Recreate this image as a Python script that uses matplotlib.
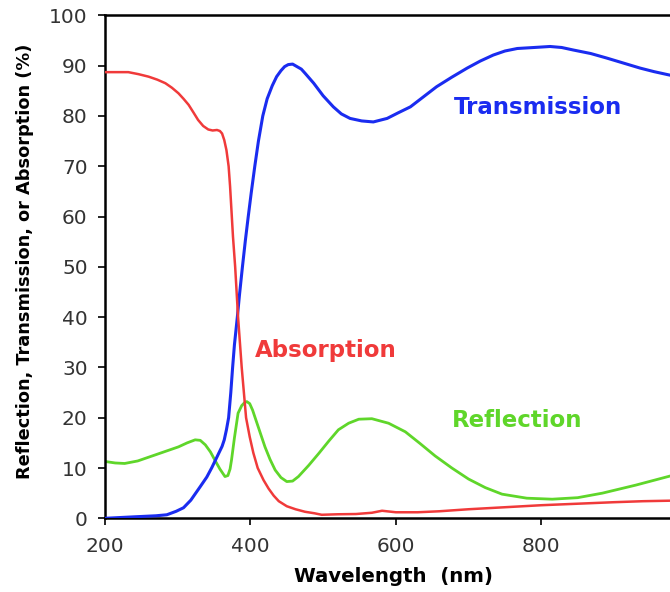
import numpy as np
import matplotlib
matplotlib.use("Agg")
import matplotlib.pyplot as plt

# Wavelength samples (nm) and series values (%)
trans_wl = [200, 241, 270, 285, 298, 308, 318, 331, 340, 347, 355, 361, 364, 367, 370, 373, 375.5, 378, 382, 385, 389, 393, 397, 401, 406, 411, 417, 423, 430, 436, 442, 447, 452, 458, 464, 470, 475, 487, 500, 514, 525, 537, 553, 569, 588, 603, 620, 638, 656, 677, 698, 716, 734, 750, 767, 790, 812, 828, 844, 868, 890, 913, 936, 955, 977]
trans_val = [0, 0.3, 0.5, 0.7, 1.4, 2.1, 3.6, 6.3, 8.2, 10.1, 12.5, 14.3, 15.6, 17.6, 20.0, 25.0, 30.0, 34.5, 40.0, 44.5, 50.0, 55.2, 60.0, 64.6, 70.0, 75.0, 80.0, 83.4, 86.0, 87.8, 89.0, 89.8, 90.2, 90.3, 89.8, 89.3, 88.5, 86.5, 84.0, 81.8, 80.4, 79.5, 79.0, 78.8, 79.5, 80.6, 81.8, 83.8, 85.8, 87.7, 89.5, 90.9, 92.1, 92.9, 93.4, 93.6, 93.8, 93.6, 93.1, 92.4, 91.5, 90.5, 89.5, 88.8, 88.1]

abs_wl = [200, 232, 246, 260, 272, 283, 292, 301, 308, 315, 322, 328, 335, 342, 348, 354, 358, 361, 364, 367, 370, 372, 374, 376, 379, 383, 388, 394, 399, 404, 410, 418, 425, 432, 439, 450, 462, 475, 488, 498, 520, 545, 567, 581, 600, 630, 660, 700, 750, 800, 850, 900, 940, 977]
abs_val = [88.7, 88.7, 88.3, 87.8, 87.2, 86.5, 85.6, 84.5, 83.4, 82.2, 80.6, 79.2, 78.0, 77.3, 77.1, 77.2, 77.0, 76.5, 75.2, 73.2, 70.0, 66.0, 61.0, 56.0, 50.0, 40.0, 30.0, 20.0, 16.2, 13.0, 10.0, 7.6, 5.9, 4.5, 3.4, 2.4, 1.8, 1.3, 1.0, 0.7, 0.8, 0.85, 1.1, 1.5, 1.2, 1.2, 1.4, 1.8, 2.2, 2.6, 2.9, 3.2, 3.4, 3.5]

refl_wl = [200, 214, 227, 245, 269, 285, 301, 313, 324, 331, 338, 345, 351, 358, 365, 369, 372, 374, 378, 383, 388, 392, 395, 399, 403, 406, 413, 420, 427, 434, 442, 450, 458, 466, 480, 494, 508, 521, 535, 549, 567, 590, 613, 633, 654, 677, 700, 723, 746, 780, 815, 850, 884, 930, 977]
refl_val = [11.3, 11.0, 10.9, 11.4, 12.6, 13.4, 14.2, 15.0, 15.6, 15.5, 14.6, 13.2, 11.6, 9.8, 8.3, 8.5, 9.8, 11.6, 16.0, 20.9, 22.4, 23.0, 23.2, 22.8, 21.5, 20.2, 17.2, 14.2, 11.7, 9.6, 8.1, 7.3, 7.4, 8.3, 10.5, 12.9, 15.4, 17.6, 18.9, 19.7, 19.8, 18.9, 17.2, 14.9, 12.4, 10.0, 7.8, 6.1, 4.8, 4.0, 3.8, 4.1, 5.0, 6.6, 8.4]

x_ticks = [200, 400, 600, 800]
y_ticks = [0, 10, 20, 30, 40, 50, 60, 70, 80, 90, 100]

c_blue = "#1a2cf0"
c_red = "#f03a3a"
c_green = "#5fd62a"

fig = plt.figure(figsize=(6.7, 5.92), dpi=100)
ax = fig.add_axes([105 / 670, 1 - 518.3 / 592, 1 - 105 / 670, (518.3 - 15.3) / 592])

ax.plot(trans_wl, trans_val, color=c_blue, lw=2.2, zorder=3)
ax.plot(abs_wl, abs_val, color=c_red, lw=1.8, zorder=3)
ax.plot(refl_wl, refl_val, color=c_green, lw=2.0, zorder=2)

ax.set_xlim(200, 977)
ax.set_ylim(0, 100)
ax.set_xticks(x_ticks)
ax.set_yticks(y_ticks)
ax.tick_params(axis="both", direction="out", length=5, width=1.2, labelsize=14.5,
               labelcolor="#333333")
ax.tick_params(axis="y", pad=7.5)
ax.tick_params(axis="x", pad=8.5)
ax.spines["right"].set_visible(False)
for s in ["left", "top", "bottom"]:
    ax.spines[s].set_linewidth(1.8)

ax.set_xlabel("Wavelength  (nm)", fontsize=14.2, fontweight="bold", labelpad=8)
ax.xaxis.label.set_x((393 - 105) / 565)
ax.set_ylabel("Reflection, Transmission, or Absorption (%)", fontsize=12.8, fontweight="bold", labelpad=11)
ax.yaxis.label.set_y((518.3 - 261) / 503)

ax.text(796, 81.7, "Transmission", color=c_blue, fontsize=16.5, fontweight="bold", ha="center", va="center")
ax.text(504, 33.3, "Absorption", color=c_red, fontsize=16.5, fontweight="bold", ha="center", va="center")
ax.text(767, 19.4, "Reflection", color=c_green, fontsize=16.5, fontweight="bold", ha="center", va="center")

fig.savefig("out.png", dpi=100)
